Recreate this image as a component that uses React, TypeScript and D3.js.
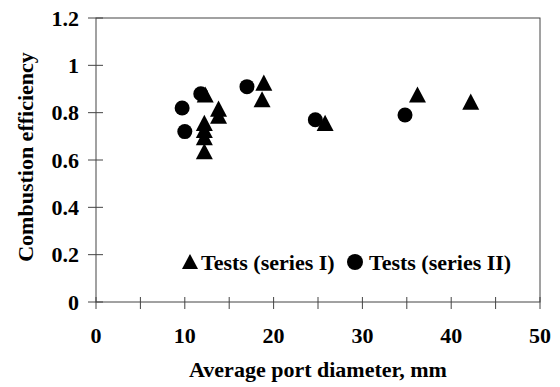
import React from 'react';
import * as d3 from 'd3';

// series I (triangles): average port diameter (mm), combustion efficiency
const seriesIx = [12.3, 13.8, 13.8, 12.2, 12.2, 12.2, 12.2, 18.9, 18.7, 25.8, 36.2, 42.2];
const seriesIy = [0.87, 0.81, 0.78, 0.75, 0.72, 0.69, 0.63, 0.92, 0.85, 0.75, 0.87, 0.84];

// series II (circles)
const seriesIIx = [9.7, 10.0, 11.8, 17.0, 24.7, 34.8];
const seriesIIy = [0.82, 0.72, 0.88, 0.91, 0.77, 0.79];

const xTicks = [0, 10, 20, 30, 40, 50];
const xMinorTicks = [0, 5, 10, 15, 20, 25, 30, 35, 40, 45, 50];
const yTicks = [0, 0.2, 0.4, 0.6, 0.8, 1, 1.2];

const width = 560;
const height = 387;
const margin = { left: 96, right: 20, top: 18, bottom: 85 };
const font = '"Liberation Serif", "Times New Roman", serif';
const fs = 22;

// excel-like triangle: a bit squatter than equilateral, size = width
const excelTriangle = {
  draw(ctx: any, size: number) {
    const w = size / 2;
    const h = size * 0.95;
    ctx.moveTo(0, -h * 0.6);
    ctx.lineTo(w, h * 0.4);
    ctx.lineTo(-w, h * 0.4);
    ctx.closePath();
  },
};

const App = () => {
  const x = d3.scaleLinear().domain([0, 50]).range([margin.left, width - margin.right]);
  const y = d3.scaleLinear().domain([0, 1.2]).range([height - margin.bottom, margin.top]);
  const tri = d3.symbol(excelTriangle as any, 17)() as string;
  const triLegend = d3.symbol(excelTriangle as any, 16)() as string;

  return (
    <svg width={width} height={height} style={{ position: 'absolute', left: 0, top: 0 }}>
      <rect x={0} y={0} width={width} height={height} fill="white" />
      <rect
        x={x(0)}
        y={y(1.2)}
        width={x(50) - x(0)}
        height={y(0) - y(1.2)}
        fill="none"
        stroke="#444"
        strokeWidth={1}
      />
      {yTicks.map(t => (
        <g key={'y' + t}>
          <line x1={x(0) - 8} x2={x(0) + 7} y1={y(t)} y2={y(t)} stroke="#444" />
          <text
            x={79}
            y={y(t)}
            dy="0.35em"
            textAnchor="end"
            fontFamily={font}
            fontWeight="bold"
            fontSize={fs}
          >
            {t}
          </text>
        </g>
      ))}
      {xMinorTicks.map(t => (
        <line key={'xm' + t} x1={x(t)} x2={x(t)} y1={y(0) - 5} y2={y(0) + 7} stroke="#444" />
      ))}
      {xTicks.map(t => (
        <text
          key={'x' + t}
          x={x(t)}
          y={343}
          textAnchor="middle"
          fontFamily={font}
          fontWeight="bold"
          fontSize={fs}
        >
          {t}
        </text>
      ))}
      <text
        x={318}
        y={377}
        textAnchor="middle"
        fontFamily={font}
        fontWeight="bold"
        fontSize={fs}
      >
        Average port diameter, mm
      </text>
      <text
        transform={`translate(33, 157) rotate(-90)`}
        textAnchor="middle"
        fontFamily={font}
        fontWeight="bold"
        fontSize={fs}
      >
        Combustion efficiency
      </text>

      {seriesIIx.map((v, i) => (
        <circle key={'c' + i} cx={x(v)} cy={y(seriesIIy[i])} r={7.5} fill="black" />
      ))}
      {seriesIx.map((v, i) => (
        <path key={'t' + i} d={tri} transform={`translate(${x(v)},${y(seriesIy[i])})`} fill="black" />
      ))}

      <g fontFamily={font} fontWeight="bold" fontSize={fs}>
        <path d={triLegend} transform="translate(190,263)" fill="black" />
        <text x={201} y={270}>Tests (series I)</text>
        <circle cx={355} cy={262} r={8} fill="black" />
        <text x={369} y={270}>Tests (series II)</text>
      </g>
    </svg>
  );
};

export default App;
